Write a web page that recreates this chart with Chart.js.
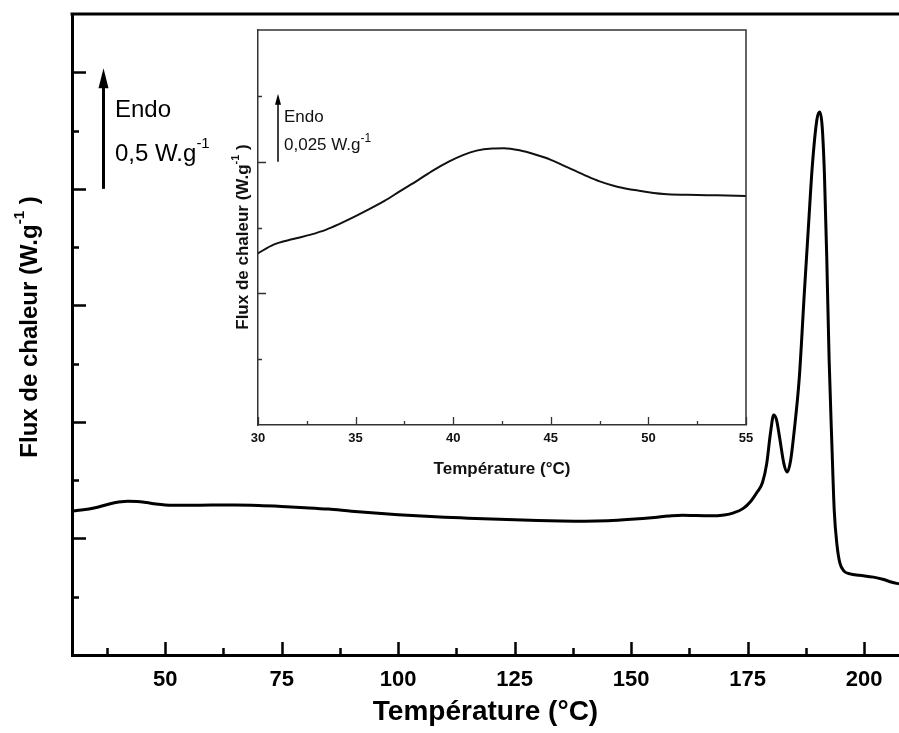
<!DOCTYPE html>
<html>
<head>
<meta charset="utf-8">
<script src="https://cdn.jsdelivr.net/npm/chart.js@4.4.1/dist/chart.umd.min.js"></script>
<style>
  html, body { margin: 0; padding: 0; background: #fff; }
  #wrap { position: relative; width: 899px; height: 733px; overflow: hidden; }
  #main { position: absolute; left: 0; top: 0; }
  #inset { position: absolute; left: 200px; top: 0; }
</style>
</head>
<body>
<div id="wrap">
  <canvas id="main" width="899" height="733"></canvas>
  <canvas id="inset" width="560" height="490"></canvas>
</div>
<script>
// main DSC curve (T in °C, flux in W/g, arbitrary offset)
const mainTemp = [30, 32, 35, 38, 40, 42, 44, 46, 48, 50, 55, 60, 65, 70, 75, 80, 85, 90, 95, 100,
  105, 110, 115, 120, 125, 130, 135, 140, 145, 150, 155, 158, 161, 164, 167, 170, 172, 174, 175.7,
  177.1, 178.2, 179.1, 179.9, 180.6, 181.2, 181.9, 182.8, 183.5, 184.2, 185.0, 186.1, 187.2, 188.1,
  188.9, 189.9, 190.5, 191.0, 191.5, 192.0, 192.5, 193.1, 193.6, 194.2, 194.8, 195.7, 197, 199, 202,
  204, 206, 207.5];
const mainFlux = [0.618, 0.622, 0.632, 0.648, 0.656, 0.660, 0.659, 0.654, 0.648, 0.644, 0.642,
  0.643, 0.643, 0.641, 0.637, 0.632, 0.626, 0.617, 0.609, 0.602, 0.596, 0.591, 0.587, 0.583, 0.580,
  0.577, 0.575, 0.574, 0.576, 0.582, 0.590, 0.596, 0.600, 0.598, 0.597, 0.601, 0.610, 0.628, 0.660,
  0.70, 0.74, 0.82, 0.95, 1.03, 1.01, 0.93, 0.82, 0.785, 0.83, 0.96, 1.19, 1.56, 1.85, 2.10, 2.30,
  2.33, 2.27, 2.06, 1.70, 1.27, 0.90, 0.62, 0.47, 0.395, 0.36, 0.348, 0.342, 0.334, 0.325, 0.312,
  0.305];
const mainXTicks = [50, 75, 100, 125, 150, 175, 200];
const mainXMinor = [37.5, 62.5, 87.5, 112.5, 137.5, 162.5, 187.5];
const mainYMajor = [0.5, 1, 1.5, 2, 2.5];
const mainYMinor = [0.25, 0.75, 1.25, 1.75, 2.25];

// inset: zoom on the 30-55 °C region
const insetTemp = [30, 30.8, 31.8, 32.7, 33.5, 34.1, 35, 35.5, 36.5, 37.3, 38.2, 39, 39.8, 40.5,
  41.2, 42, 42.6, 43.4, 44.2, 45, 45.8, 46.7, 47.5, 48.4, 49.5, 50.8, 52, 53.5, 55];
const insetFlux = [0.0652, 0.0685, 0.0706, 0.0723, 0.0742, 0.0761, 0.0793, 0.0812, 0.0852, 0.0889,
  0.0930, 0.0968, 0.1001, 0.1025, 0.1042, 0.1050, 0.1051, 0.1043, 0.1027, 0.1007, 0.0980, 0.0950,
  0.0925, 0.0905, 0.0890, 0.0877, 0.0874, 0.0872, 0.0870];
const insetXTicks = [30, 35, 40, 45, 50, 55];
const insetXMinor = [32.5, 37.5, 42.5, 47.5, 52.5];
const insetYMajor = [0.05, 0.1];
const insetYMinor = [0.025, 0.075, 0.125];

const FONT = '"Liberation Sans", Arial, Helvetica, sans-serif';

// inward pointing tick marks
function drawTicks(chart, xVals, xLen, yVals, yLen, width, color) {
  const ctx = chart.ctx;
  const { left, bottom } = chart.chartArea;
  const xs = chart.scales.x, ys = chart.scales.y;
  ctx.save();
  ctx.strokeStyle = color;
  ctx.lineWidth = width;
  ctx.beginPath();
  xVals.forEach(v => {
    const px = Math.round(xs.getPixelForValue(v)) + 0.5;
    ctx.moveTo(px, bottom);
    ctx.lineTo(px, bottom - xLen);
  });
  yVals.forEach(v => {
    const py = Math.round(ys.getPixelForValue(v)) + 0.5;
    ctx.moveTo(left, py);
    ctx.lineTo(left + yLen, py);
  });
  ctx.stroke();
  ctx.restore();
}

// text runs: [text, font, dy]
function drawRuns(ctx, runs, x, y, center) {
  let w = 0;
  runs.forEach(r => { ctx.font = r[1]; w += ctx.measureText(r[0]).width; });
  let cx = center ? x - w / 2 : x;
  runs.forEach(r => {
    ctx.font = r[1];
    ctx.fillText(r[0], cx, y + r[2]);
    cx += ctx.measureText(r[0]).width;
  });
}

function drawArrow(ctx, x, yBottom, yTip, lw, headW, headH) {
  ctx.save();
  ctx.strokeStyle = '#000';
  ctx.fillStyle = '#000';
  ctx.lineWidth = lw;
  ctx.beginPath();
  ctx.moveTo(x, yBottom);
  ctx.lineTo(x, yTip + headH - 1);
  ctx.stroke();
  ctx.beginPath();
  ctx.moveTo(x, yTip);
  ctx.lineTo(x - headW / 2, yTip + headH);
  ctx.lineTo(x + headW / 2, yTip + headH);
  ctx.closePath();
  ctx.fill();
  ctx.restore();
}

const mainDecor = {
  id: 'mainDecor',
  afterDraw(chart) {
    const ctx = chart.ctx;
    const { left, right, top } = chart.chartArea;
    const ys = chart.scales.y;
    drawTicks(chart, mainXTicks, 13, mainYMajor, 14, 2.5, '#000');
    drawTicks(chart, mainXMinor, 7, mainYMinor, 7, 2.5, '#000');
    ctx.save();
    // top frame
    ctx.strokeStyle = '#000';
    ctx.lineWidth = 3;
    ctx.beginPath();
    ctx.moveTo(left - 1.5, top);
    ctx.lineTo(right, top);
    ctx.stroke();

    // 0.5 W/g scale arrow
    drawArrow(ctx, 103.5, ys.getPixelForValue(2.0), ys.getPixelForValue(2.5) - 4, 3, 10, 20);
    ctx.fillStyle = '#000';
    ctx.textBaseline = 'alphabetic';
    ctx.textAlign = 'left';
    const reg = '24px ' + FONT;
    drawRuns(ctx, [['Endo', reg, 0]], 115, 117, false);
    drawRuns(ctx, [['0,5 W.g', reg, 0], ['-1', '15px ' + FONT, -13]], 115, 161, false);

    // y axis title with superscript
    ctx.translate(37, 327);
    ctx.rotate(-Math.PI / 2);
    const b = 'bold 24px ' + FONT, s = 'bold 15px ' + FONT;
    drawRuns(ctx, [['Flux de chaleur (W.g', b, 0], ['-1', s, -13], [' )', b, 0]], 0, 0, true);
    ctx.restore();
  }
};

const insetDecor = {
  id: 'insetDecor',
  beforeDraw(chart) {
    const ctx = chart.ctx;
    const { left, right, top, bottom } = chart.chartArea;
    ctx.save();
    ctx.fillStyle = '#fff';
    ctx.fillRect(left, top, right - left, bottom - top);
    ctx.restore();
  },
  afterDraw(chart) {
    const ctx = chart.ctx;
    const { left, right, top, bottom } = chart.chartArea;
    const ys = chart.scales.y;
    drawTicks(chart, insetXTicks, 8, insetYMajor, 8, 1.3, '#333');
    drawTicks(chart, insetXMinor, 4, insetYMinor, 4, 1.3, '#333');
    ctx.save();
    ctx.strokeStyle = '#333';
    ctx.lineWidth = 1.5;
    ctx.beginPath();
    ctx.moveTo(left, top);
    ctx.lineTo(right, top);
    ctx.lineTo(right, bottom);
    ctx.stroke();

    // 0.025 W/g scale arrow
    drawArrow(ctx, 78, ys.getPixelForValue(0.1), ys.getPixelForValue(0.125) - 2, 1.5, 6, 11);
    ctx.fillStyle = '#111';
    ctx.textBaseline = 'alphabetic';
    ctx.textAlign = 'left';
    const reg = '17px ' + FONT;
    drawRuns(ctx, [['Endo', reg, 0]], 84, 122, false);
    drawRuns(ctx, [['0,025 W.g', reg, 0], ['-1', '12px ' + FONT, -8]], 84, 150, false);

    ctx.translate(48, 237);
    ctx.rotate(-Math.PI / 2);
    const b = 'bold 17px ' + FONT, s = 'bold 11px ' + FONT;
    drawRuns(ctx, [['Flux de chaleur (W.g', b, 0], ['-1', s, -9], [' )', b, 0]], 0, 0, true);
    ctx.restore();
  }
};

new Chart(document.getElementById('main'), {
  type: 'line',
  data: {
    datasets: [{
      data: mainTemp.map((t, i) => ({ x: t, y: mainFlux[i] })),
      borderColor: '#000',
      borderWidth: 3,
      pointRadius: 0,
      cubicInterpolationMode: 'monotone',
      fill: false
    }]
  },
  options: {
    responsive: false,
    animation: false,
    events: [],
    layout: { padding: { top: 14, right: 0, bottom: 0, left: 0 } },
    plugins: { legend: { display: false }, tooltip: { enabled: false } },
    scales: {
      x: {
        type: 'linear', min: 30, max: 207.5,
        afterBuildTicks: s => { s.ticks = mainXTicks.map(v => ({ value: v })); },
        afterFit: s => { s.height = 78; },
        grid: { display: false, drawTicks: false },
        border: { display: true, color: '#000', width: 3 },
        ticks: { color: '#000', padding: 12, maxRotation: 0, autoSkip: false,
          font: { family: FONT, size: 22, weight: 'bold' } },
        title: { display: true, text: 'Température (°C)', color: '#000',
          font: { family: FONT, size: 28, weight: 'bold' }, padding: { top: 0, bottom: 4 } }
      },
      y: {
        type: 'linear', min: 0, max: 2.75,
        afterFit: s => { s.width = 72; },
        grid: { display: false, drawTicks: false },
        border: { display: true, color: '#000', width: 3 },
        ticks: { display: false }
      }
    }
  },
  plugins: [mainDecor]
});

new Chart(document.getElementById('inset'), {
  type: 'line',
  data: {
    datasets: [{
      data: insetTemp.map((t, i) => ({ x: t, y: insetFlux[i] })),
      borderColor: '#111',
      borderWidth: 2,
      pointRadius: 0,
      cubicInterpolationMode: 'monotone',
      fill: false
    }]
  },
  options: {
    responsive: false,
    animation: false,
    events: [],
    layout: { padding: { top: 30, right: 14, bottom: 0, left: 0 } },
    plugins: { legend: { display: false }, tooltip: { enabled: false } },
    scales: {
      x: {
        type: 'linear', min: 30, max: 55,
        afterBuildTicks: s => { s.ticks = insetXTicks.map(v => ({ value: v })); },
        afterFit: s => { s.height = 65; },
        grid: { display: false, drawTicks: false },
        border: { display: true, color: '#333', width: 1.5 },
        ticks: { color: '#111', padding: 6, maxRotation: 0, autoSkip: false,
          font: { family: FONT, size: 13, weight: 'bold' } },
        title: { display: true, text: 'Température (°C)', color: '#111',
          font: { family: FONT, size: 17, weight: 'bold' }, padding: { top: 0, bottom: 10 } }
      },
      y: {
        type: 'linear', min: 0, max: 0.15,
        afterFit: s => { s.width = 58; },
        grid: { display: false, drawTicks: false },
        border: { display: true, color: '#333', width: 1.5 },
        ticks: { display: false }
      }
    }
  },
  plugins: [insetDecor]
});
</script>
</body>
</html>
